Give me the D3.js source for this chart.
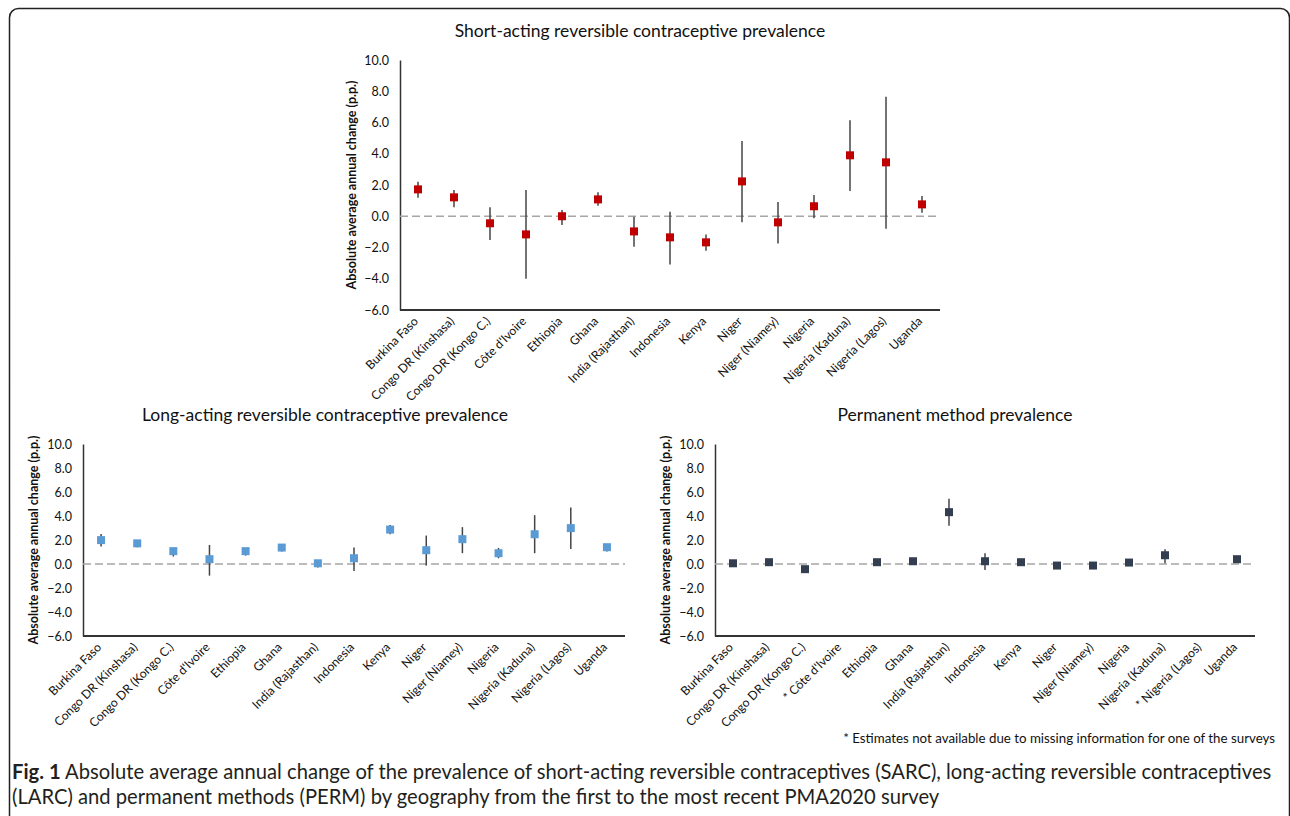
<!DOCTYPE html>
<html>
<head>
<meta charset="utf-8">
<script src="https://cdn.jsdelivr.net/npm/d3@7"></script>
<style>
  body { margin: 0; background: #fff; }
  svg { display: block; font-family: Lato, "Open Sans", sans-serif; }
</style>
</head>
<body>
<svg id="fig" width="1290" height="816"></svg>
<script>
// ---------------- data ----------------
const geographies = [
  "Burkina Faso", "Congo DR (Kinshasa)", "Congo DR (Kongo C.)", "Côte d'Ivoire",
  "Ethiopia", "Ghana", "India (Rajasthan)", "Indonesia", "Kenya", "Niger",
  "Niger (Niamey)", "Nigeria", "Nigeria (Kaduna)", "Nigeria (Lagos)", "Uganda"
];
const yTicks = [-6, -4, -2, 0, 2, 4, 6, 8, 10];

// short-acting: estimate, lower, upper
const sarcValue = [1.72, 1.21, -0.45, -1.16, 0.0, 1.08, -0.97, -1.35, -1.67, 2.23, -0.39, 0.64, 3.9, 3.45, 0.76];
const sarcLow   = [1.19, 0.57, -1.52, -4.0, -0.56, 0.68, -1.95, -3.08, -2.2, -0.39, -1.75, -0.13, 1.62, -0.8, 0.23];
const sarcHigh  = [2.21, 1.68, 0.57, 1.68, 0.4, 1.53, -0.03, 0.29, -1.16, 4.82, 0.91, 1.36, 6.14, 7.65, 1.3];

// long-acting
const larcValue = [1.99, 1.72, 1.07, 0.4, 1.07, 1.37, 0.06, 0.48, 2.87, 1.15, 2.07, 0.9, 2.48, 2.99, 1.4];
const larcLow   = [1.45, 1.4, 0.62, -0.97, 0.7, 1.04, -0.3, -0.58, 2.48, -0.13, 0.9, 0.48, 0.9, 1.26, 1.04];
const larcHigh  = [2.51, 1.9, 1.25, 1.59, 1.2, 1.55, 0.2, 1.37, 3.26, 2.37, 3.07, 1.34, 4.07, 4.71, 1.55];

// permanent (null = not available)
const permValue = [0.06, 0.15, -0.43, null, 0.15, 0.23, 4.32, 0.23, 0.15, -0.13, -0.13, 0.12, 0.73, null, 0.4];
const permLow   = [0.0, 0.1, -0.5, null, 0.1, 0.18, 3.18, -0.49, 0.1, -0.2, -0.2, 0.07, 0.06, null, 0.35];
const permHigh  = [0.12, 0.2, -0.36, null, 0.2, 0.28, 5.43, 0.9, 0.2, -0.06, -0.06, 0.17, 1.23, null, 0.45];
const permMissing = ["Côte d'Ivoire", "Nigeria (Lagos)"];

const svg = d3.select("#fig");

// frame
svg.append("rect")
  .attr("x", 9.5).attr("y", 8.5)
  .attr("width", 1280).attr("height", 900)
  .attr("rx", 9)
  .attr("fill", "none")
  .attr("stroke", "#222")
  .attr("stroke-width", 1.5);

// ---------------- panel ----------------
function panel(opts) {
  const { x0, x1, yTop, yBot, title, titleX, titleY, axisTitleX, values, lows, highs, color, missing = [] } = opts;

  const g = svg.append("g");

  const x = d3.scaleBand().domain(geographies).range([x0, x1]);
  const y = d3.scaleLinear().domain([-6, 10]).range([yBot, yTop]);

  // title
  g.append("text")
    .attr("x", titleX).attr("y", titleY)
    .attr("text-anchor", "middle")
    .attr("font-size", 17.5)
    .attr("fill", "#111")
    .text(title);

  // axis title
  g.append("text")
    .attr("transform", `translate(${axisTitleX},${(yTop + yBot) / 2}) rotate(-90)`)
    .attr("text-anchor", "middle")
    .attr("font-size", 12.5)
    .attr("font-weight", "bold")
    .attr("fill", "#111")
    .text("Absolute average annual change (p.p.)");

  // y axis
  const yAxis = d3.axisLeft(y)
    .tickValues(yTicks)
    .tickFormat(d3.format(".1f"))
    .tickSize(0)
    .tickPadding(11);
  const ya = g.append("g")
    .attr("transform", `translate(${x0},0)`)
    .call(yAxis);
  ya.select(".domain").attr("stroke", "#333").attr("stroke-width", 1.5);
  ya.selectAll("text").attr("font-size", 12.5).attr("fill", "#111").attr("font-family", "Lato, sans-serif");

  // x axis line at bottom
  g.append("line")
    .attr("x1", x0).attr("x2", x1)
    .attr("y1", yBot).attr("y2", yBot)
    .attr("stroke", "#333")
    .attr("stroke-width", 2);

  // category labels
  g.selectAll(".cat")
    .data(geographies)
    .join("text")
    .attr("class", "cat")
    .attr("transform", d => `translate(${x(d) + x.bandwidth() / 2 + 1},${yBot + 12}) rotate(-45)`)
    .attr("text-anchor", "end")
    .attr("font-size", 12.2)
    .attr("fill", "#111")
    .text(d => missing.includes(d) ? "* " + d : d);

  // zero line
  g.append("line")
    .attr("x1", x0).attr("x2", x1)
    .attr("y1", y(0)).attr("y2", y(0))
    .attr("stroke", "#a6a6a6")
    .attr("stroke-width", 1.5)
    .attr("stroke-dasharray", "8,4");

  const pts = geographies.map((d, i) => ({ name: d, v: values[i], lo: lows[i], hi: highs[i] }))
    .filter(d => d.v !== null);

  // error bars
  g.selectAll(".err")
    .data(pts)
    .join("line")
    .attr("class", "err")
    .attr("x1", d => x(d.name) + x.bandwidth() / 2)
    .attr("x2", d => x(d.name) + x.bandwidth() / 2)
    .attr("y1", d => y(d.lo))
    .attr("y2", d => y(d.hi))
    .attr("stroke", "#444")
    .attr("stroke-width", 1.5);

  // markers
  const s = 8;
  g.selectAll(".pt")
    .data(pts)
    .join("rect")
    .attr("class", "pt")
    .attr("x", d => x(d.name) + x.bandwidth() / 2 - s / 2)
    .attr("y", d => y(d.v) - s / 2)
    .attr("width", s).attr("height", s)
    .attr("fill", color);
}

panel({
  x0: 400, x1: 940, yTop: 60, yBot: 310,
  title: "Short-acting reversible contraceptive prevalence", titleX: 640, titleY: 37,
  axisTitleX: 356,
  values: sarcValue, lows: sarcLow, highs: sarcHigh, color: "#c00000"
});

panel({
  x0: 83, x1: 625, yTop: 444, yBot: 636,
  title: "Long-acting reversible contraceptive prevalence", titleX: 325, titleY: 421,
  axisTitleX: 38,
  values: larcValue, lows: larcLow, highs: larcHigh, color: "#5b9bd5"
});

panel({
  x0: 715, x1: 1255, yTop: 444, yBot: 636,
  title: "Permanent method prevalence", titleX: 955, titleY: 421,
  axisTitleX: 670,
  values: permValue, lows: permLow, highs: permHigh, color: "#333f50",
  missing: permMissing
});

// footnote
svg.append("text")
  .attr("x", 1275).attr("y", 743)
  .attr("text-anchor", "end")
  .attr("font-size", 13.3)
  .attr("fill", "#111")
  .text("* Estimates not available due to missing information for one of the surveys");

// caption
const cap = svg.append("text")
  .attr("font-size", 20.2)
  .attr("fill", "#231f20");
const l1 = cap.append("tspan").attr("x", 12).attr("y", 779);
l1.append("tspan").attr("font-weight", "bold").text("Fig. 1");
l1.append("tspan").text(" Absolute average annual change of the prevalence of short-acting reversible contraceptives (SARC), long-acting reversible contraceptives");
cap.append("tspan").attr("x", 12).attr("y", 804)
  .text("(LARC) and permanent methods (PERM) by geography from the first to the most recent PMA2020 survey");
</script>
</body>
</html>
